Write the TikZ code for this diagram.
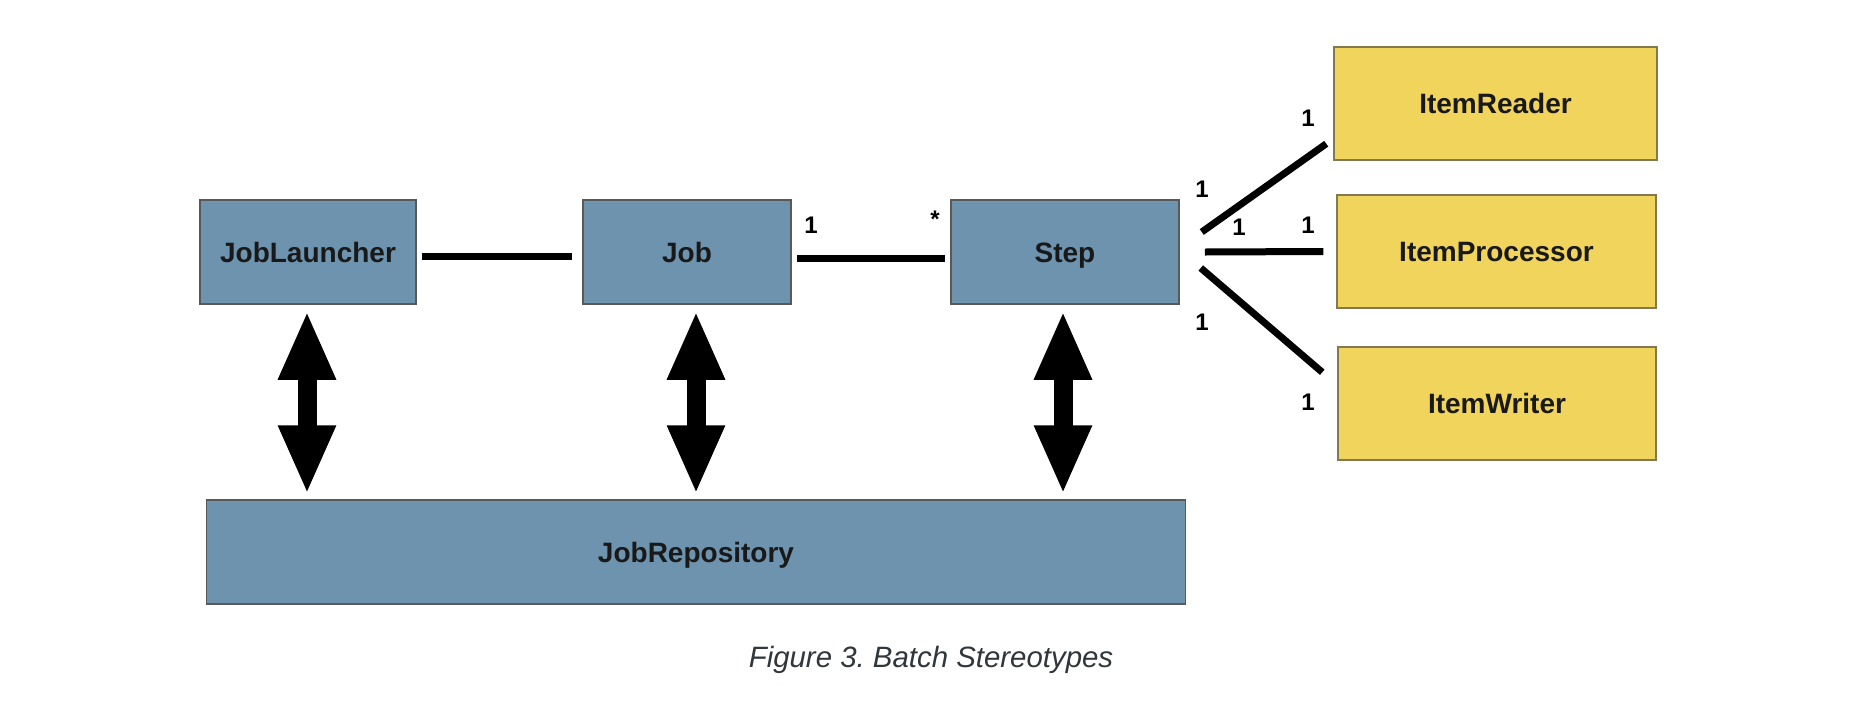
\documentclass[tikz,border=0pt]{standalone}
\usepackage{fontspec}
\setmainfont{Liberation Sans}
\usetikzlibrary{arrows.meta}
\frenchspacing

\definecolor{coreblue}{HTML}{6E93AE}
\definecolor{itemyellow}{HTML}{F1D45C}
\definecolor{captiongray}{HTML}{30363A}

\tikzset{
  unit/.style={line width=0.75pt, inner sep=0pt, text height=10pt, text depth=0pt,
    font=\fontsize{14}{16}\selectfont\bfseries, text=black!90},
  core/.style={unit, fill=coreblue, draw=black!65},
  item/.style={unit, fill=itemyellow, draw=black!45!itemyellow!60!gray},
  assoc/.style={line width=3.5pt},
  mult/.style={inner sep=0pt, font=\fontsize{12}{14}\selectfont\bfseries},
  repolink/.style={line width=9.5pt,
    {Triangle[length=34.5pt,width=26.5pt]}-{Triangle[length=34.5pt,width=26.5pt]},
    shorten <=3pt, shorten >=2.5pt}
}

\begin{document}
\begin{tikzpicture}[x=0.5pt,y=-0.5pt]
\useasboundingbox (0,0) rectangle (1858,713);
\fill[white] (0,0) rectangle (1858,713);

% the batch stereotypes
\node[core, minimum width=108pt, minimum height=52pt] (launcher) at (308,252) {JobLauncher};
\node[core, minimum width=104pt, minimum height=52pt] (job) at (687,252) {Job};
\node[core, minimum width=114pt, minimum height=52pt] (step) at (1065,252) {Step};
\node[core, minimum width=489.5pt, minimum height=52pt] (repo) at (696,552) {JobRepository};

\node[item, minimum width=161.5pt, minimum height=56.5pt] (reader) at (1495.5,103.5) {ItemReader};
\node[item, minimum width=159.5pt, minimum height=56.5pt] (processor) at (1496.5,251.5) {ItemProcessor};
\node[item, minimum width=159pt, minimum height=56.5pt] (writer) at (1497,403.5) {ItemWriter};

% associations
\draw[assoc, shorten <=2.5pt, shorten >=5pt] ([yshift=-2pt]launcher.east) -- ([yshift=-2pt]job.west);
\draw[assoc, shorten <=2.5pt, shorten >=2.5pt] ([yshift=-3pt]job.east) -- ([yshift=-3pt]step.west);
\draw[assoc] ([shift={(11pt,10pt)}]step.east) -- ([shift={(-3.5pt,8.5pt)}]reader.south west);
\draw[assoc] ([xshift=12.5pt]step.east) -- ([xshift=-6.5pt]processor.west);
\draw[assoc] ([shift={(10.5pt,-8pt)}]step.east) -- ([shift={(-7.5pt,-13pt)}]writer.north west);

\node[mult] (jobone) at (811,225) {1};
\node[mult] (stepmany) at (935,219) {*};
\node[mult] (readerfrom) at (1202,189) {1};
\node[mult] (readerto) at (1308,118) {1};
\node[mult] (processorfrom) at (1239,227) {1};
\node[mult] (processorto) at (1308,225) {1};
\node[mult] (writerfrom) at (1202,322) {1};
\node[mult] (writerto) at (1308,402) {1};

% links to the repository
\coordinate (launcherfoot) at ([xshift=-0.5pt]launcher.south);
\coordinate (jobfoot) at ([xshift=4.5pt]job.south);
\coordinate (stepfoot) at ([xshift=-1pt]step.south);
\draw[repolink] (launcherfoot) -- (launcherfoot |- repo.north);
\draw[repolink] (jobfoot) -- (jobfoot |- repo.north);
\draw[repolink] (stepfoot) -- (stepfoot |- repo.north);

\node[anchor=base, inner sep=0pt, text=captiongray, font=\fontsize{14.7}{17}\selectfont\itshape] (caption) at (931,667) {Figure 3. Batch Stereotypes};
\end{tikzpicture}
\end{document}
